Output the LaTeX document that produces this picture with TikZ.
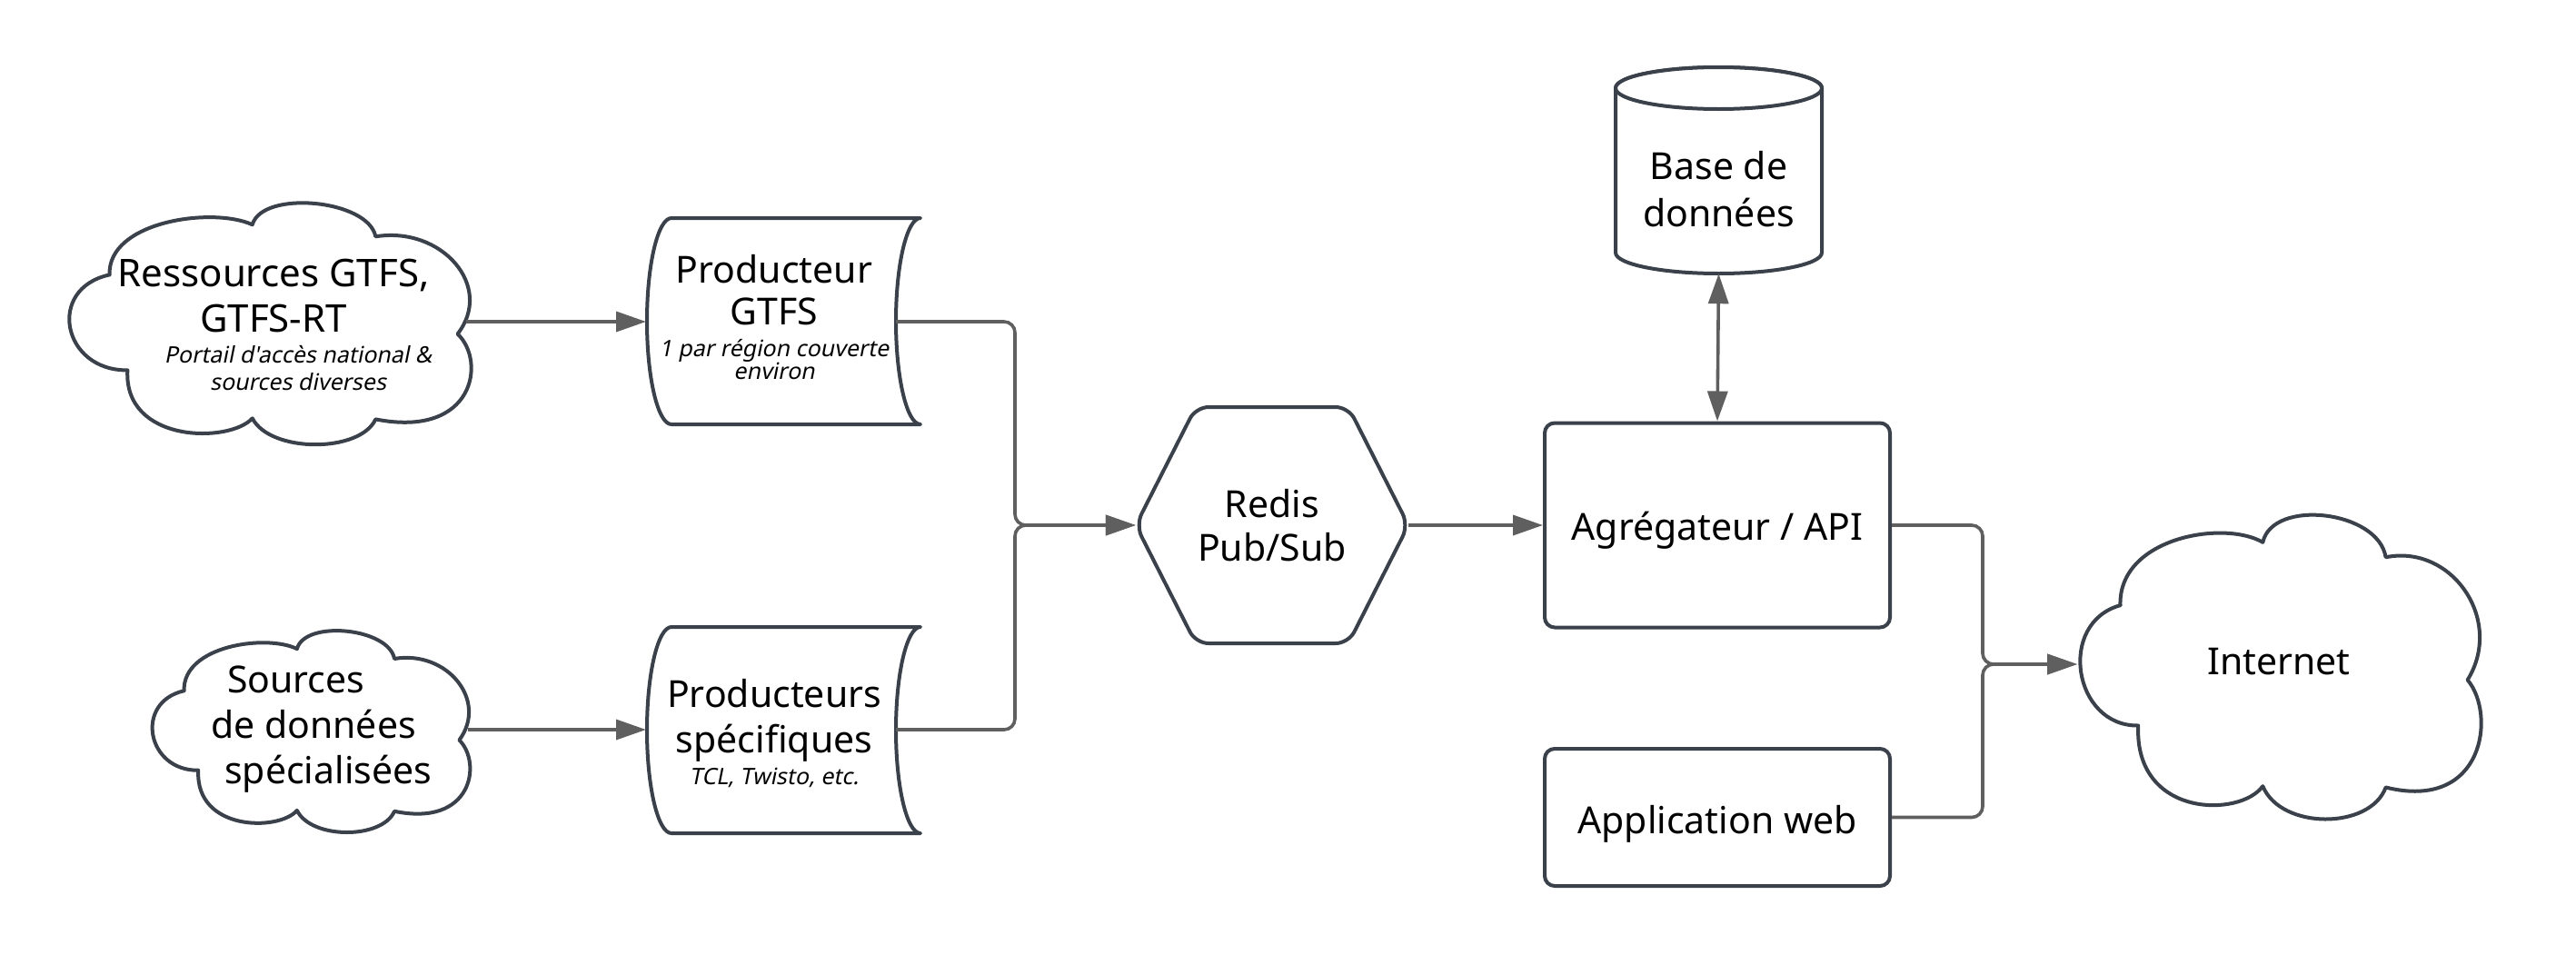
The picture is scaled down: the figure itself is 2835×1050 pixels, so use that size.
\documentclass[tikz,border=0pt]{standalone}
\usepackage{fontspec}
\setmainfont{Noto Sans}
\newfontfamily\subit{Noto Sans}[FakeSlant=0.2]
\usetikzlibrary{arrows.meta}
\definecolor{edgec}{RGB}{58,65,74}
\definecolor{connc}{RGB}{95,95,95}
\newcommand\mycloud[4]{%
 \begin{scope}[shift={(#1,#2)},xscale=#3,yscale=#4]
 \draw[shapeline] (0.106,0.303) .. controls (0.10,0.08) and (0.36,0.02) .. (0.456,0.095)
   .. controls (0.48,-0.05) and (0.74,-0.01) .. (0.758,0.144)
   .. controls (0.92,0.10) and (1.05,0.35) .. (0.959,0.547)
   .. controls (1.03,0.66) and (1.00,0.98) .. (0.758,0.900)
   .. controls (0.72,1.04) and (0.50,1.04) .. (0.456,0.896)
   .. controls (0.40,1.0) and (0.14,1.0) .. (0.150,0.697)
   .. controls (-0.01,0.70) and (-0.05,0.36) .. cycle;
 \end{scope}}
\begin{document}
\begin{tikzpicture}[x=1pt,y=-1pt,
  shapeline/.style={draw=edgec,line width=4pt,fill=white,line join=round},
  boxnode/.style={shapeline,rounded corners=11pt,inner sep=0pt,text depth=0pt,
     font=\fontsize{41}{49}\selectfont},
  conn/.style={draw=connc,line width=3.6pt,rounded corners=12pt,-{Triangle[length=33pt,width=22pt]}},
  bidir/.style={draw=connc,line width=3.6pt,{Triangle[length=33pt,width=22pt]}-{Triangle[length=33pt,width=22pt]}},
  txt/.style={inner sep=0pt,text=black},
  ghost/.style={inner sep=0pt,draw=none}]

\fill[white] (0,0) rectangle (2835,1050);
\useasboundingbox (0,0) rectangle (2835,1050);

% ---------- clouds ----------
\mycloud{73}{222}{449}{266}
\node[ghost,minimum width=449pt,minimum height=266pt] (cloud1) at (297.5,355) {};
\node[txt,align=center,font=\fontsize{42}{50}\selectfont] (c1title) at (301,325.5) {Ressources GTFS,\\GTFS-RT};
\node[txt,align=center,font=\fontsize{25}{30}\subit] (c1sub) at (328,405.5) {Portail d'accès national \&\\sources diverses};

\mycloud{165}{693}{355}{222}
\node[ghost,minimum width=355pt,minimum height=222pt] (cloud2) at (342.5,804) {};
\node[txt,align=left,anchor=west,font=\fontsize{41}{50}\selectfont] (c2title) at (232,803) {\hspace*{18pt}Sources\\de données\\\hspace*{15pt}spécialisées};

\mycloud{2286}{565}{448}{335}
\node[ghost,minimum width=448pt,minimum height=335pt,text height=19pt,text depth=0pt,font=\fontsize{41}{49}\selectfont] (inet) at (2508,732.5) {Internet};

% ---------- producers (stored data shapes) ----------
\draw[shapeline] (739,240) -- (1013,240) arc[start angle=90,end angle=270,x radius=27pt,y radius=113.5pt]
  -- (739,467) arc[start angle=270,end angle=90,x radius=27pt,y radius=113.5pt] -- cycle;
\node[ghost,minimum width=301pt,minimum height=227pt] (pg) at (862.5,353.5) {};
\node[txt,align=center,font=\fontsize{41}{46}\selectfont] (pgtitle) at (852,319.5) {Producteur\\GTFS};
\node[txt,align=center,font=\fontsize{25}{25}\subit] (pgsub) at (852,396) {1 par région couverte\\environ};

\draw[shapeline] (739,690) -- (1013,690) arc[start angle=90,end angle=270,x radius=27pt,y radius=113.5pt]
  -- (739,917) arc[start angle=270,end angle=90,x radius=27pt,y radius=113.5pt] -- cycle;
\node[ghost,minimum width=301pt,minimum height=227pt] (ps) at (862.5,803.5) {};
\node[txt,align=center,font=\fontsize{41}{50}\selectfont] (pstitle) at (852,792.4) {Producteurs\\spécifiques};
\node[txt,anchor=base,font=\fontsize{25}{25}\subit] (pssub) at (852,863) {TCL, Twisto, etc.};

% ---------- Redis hexagon ----------
\draw[shapeline,rounded corners=14pt] (1400,448) -- (1484,448) -- (1550,578) -- (1484,708)
  -- (1316,708) -- (1250,578) -- (1316,448) -- cycle;
\node[ghost,align=center,minimum width=300pt,minimum height=260pt,font=\fontsize{41}{48}\selectfont] (redis) at (1400,578) {Redis\\Pub/Sub};

% ---------- database cylinder ----------
\draw[shapeline] (1778,97) -- (1778,278) arc[start angle=180,end angle=360,x radius=113.5pt,y radius=23pt]
  -- (2005,97) arc[start angle=0,end angle=180,x radius=113.5pt,y radius=23pt] -- cycle;
\draw[shapeline] (1891.5,97) ellipse[x radius=113.5pt,y radius=23pt];
\node[ghost,minimum width=227pt,minimum height=227pt] (db) at (1891.5,187.5) {};
\node[txt,align=center,font=\fontsize{41}{52}\selectfont] (dbtext) at (1891.5,208.5) {Base de\\données};

% ---------- boxes ----------
\node[boxnode,minimum width=380pt,minimum height=225pt,text height=33pt] (agg) at (1890,578) {Agrégateur / API};
\node[boxnode,minimum width=380pt,minimum height=151pt,text height=35pt] (app) at (1890,899.5) {Application web};

% ---------- connection points ----------
\coordinate (c1r) at (513,354);
\coordinate (pgin) at (711,354);
\coordinate (pgout) at (986,354);
\coordinate (c2r) at (515,803);
\coordinate (psin) at (711,803);
\coordinate (psout) at (986,803);
\coordinate (jl) at (1117,578);
\coordinate (jr) at (2182,731);
\coordinate (inetl) at (2286,731);

% ---------- connectors ----------
\draw[conn] (c1r) -- (pgin);
\draw[conn] (c2r) -- (psin);
\draw[conn] (pgout) -- (pgout -| jl) -- (jl) -- (redis.west);
\draw[conn] (psout) -- (psout -| jl) -- (jl) -- (redis.west);
\draw[conn] (redis.east) -- (agg.west);
\draw[bidir] (db.south) -- (agg.north);
\draw[conn] (agg.east) -- (agg.east -| jr) -- (jr) -- (inetl);
\draw[conn] (app.east) -- (app.east -| jr) -- (jr) -- (inetl);
\end{tikzpicture}
\end{document}
